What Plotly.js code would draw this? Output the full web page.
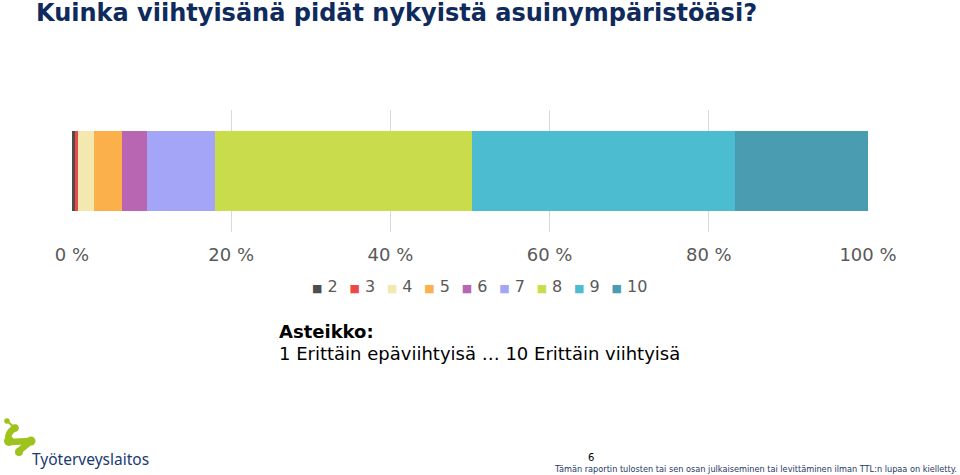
<!DOCTYPE html>
<html>
<head>
<meta charset="utf-8">
<script src="https://cdn.plot.ly/plotly-3.0.1.min.js"></script>
<style>html,body{margin:0;padding:0;background:#fff;}#chart{width:960px;height:475px;}</style>
</head>
<body>
<div id="chart"></div>
<script>
// ---- data ----
const categories = ['2', '3', '4', '5', '6', '7', '8', '9', '10'];
const values = [0.4, 0.4, 2.0, 3.5, 3.1, 8.6, 32.3, 33.0, 16.7];
const colors = ['#4d4d4d', '#ec4848', '#f3e8b0', '#fbb04c', '#b866b2', '#a5a5f8', '#c9dc4c', '#4cbcd0', '#4a9db0'];
const tickVals = [0, 20, 40, 60, 80, 100];
const tickText = ['0 %', '20 %', '40 %', '60 %', '80 %', '100 %'];
const titleText = 'Kuinka viihtyisänä pidät nykyistä asuinympäristöäsi?';
const scaleTitle = 'Asteikko:';
const scaleText = '1 Erittäin epäviihtyisä … 10 Erittäin viihtyisä';
const pageNo = '6';
const footText = 'Tämän raportin tulosten tai sen osan julkaiseminen tai levittäminen ilman TTL:n lupaa on kielletty.';
const logoText = 'Työterveyslaitos';

// ---- layout helpers (pixel -> paper) ----
const L = 72, R = 868, T = 110, B = 232;
const px = x => (x - L) / (R - L);
const py = y => (B - y) / (B - T);

const traces = categories.map((c, i) => ({
  type: 'bar', orientation: 'h', name: c,
  x: [values[i]], y: ['q'], width: 0.656,
  marker: {color: colors[i], line: {width: 0}},
  showlegend: false, hoverinfo: 'name+x'
}));

const legendText = categories.map((c, i) =>
  `<span style="color:${colors[i]};font-size:11px">■</span>\u00A0${c}`).join('\u00A0\u00A0\u200A');

const logoSvg = `<svg xmlns="http://www.w3.org/2000/svg" width="40" height="40" viewBox="0 0 40 40">
<g fill="#9dc31c" stroke="#9dc31c" stroke-linecap="round" stroke-linejoin="round">
<circle cx="7" cy="5" r="2.8" stroke="none"/>
<path d="M7,5 L15,12" stroke-width="2.2" fill="none"/>
<path d="M15,12 Q5,18 10,26 L31,25 L19,35" stroke-width="6.5" fill="none"/>
<circle cx="15" cy="12" r="3.8" stroke="none"/>
<circle cx="9" cy="25" r="5" stroke="none"/>
<circle cx="31" cy="25" r="4.5" stroke="none"/>
<circle cx="19" cy="36" r="4" stroke="none"/>
</g></svg>`;

const layout = {
  width: 960, height: 475,
  paper_bgcolor: '#ffffff', plot_bgcolor: '#ffffff',
  margin: {l: L, r: 960 - R, t: T, b: 475 - B, pad: 0},
  barmode: 'stack',
  bargap: 0,
  title: {
    text: titleText, x: 36 / 960, xanchor: 'left', xref: 'container',
    y: 1 - 13 / 475, yanchor: 'middle', yref: 'container', pad: {t: 0, l: 0},
    font: {family: 'DejaVu Sans', size: 24, color: '#0f2a5c', weight: 'bold'}
  },
  xaxis: {
    range: [0, 100], tickvals: tickVals, ticktext: tickText,
    showgrid: true, gridcolor: '#d9d9d9', gridwidth: 1, zeroline: false,
    showline: false, ticks: '', ticklabelstandoff: 10,
    tickfont: {family: 'DejaVu Sans', size: 18, color: '#595959'},
    fixedrange: true
  },
  yaxis: {range: [-0.5, 0.5], visible: false, fixedrange: true},
  annotations: [
    {text: legendText, xref: 'paper', yref: 'paper', x: px(479), y: py(286),
     xanchor: 'center', yanchor: 'middle', showarrow: false,
     font: {family: 'DejaVu Sans', size: 16, color: '#595959'}},
    {text: '<b>' + scaleTitle + '</b>', xref: 'paper', yref: 'paper', x: px(277), y: py(331),
     xanchor: 'left', yanchor: 'middle', showarrow: false,
     font: {family: 'DejaVu Sans', size: 18, color: '#000000'}},
    {text: scaleText, xref: 'paper', yref: 'paper', x: px(277), y: py(353),
     xanchor: 'left', yanchor: 'middle', showarrow: false,
     font: {family: 'DejaVu Sans', size: 18, color: '#000000'}},
    {text: logoText, xref: 'paper', yref: 'paper', x: px(30), y: py(459),
     xanchor: 'left', yanchor: 'middle', showarrow: false,
     font: {family: 'Noto Sans', size: 15.5, color: '#1b3a72'}},
    {text: pageNo, xref: 'paper', yref: 'paper', x: px(591), y: py(457),
     xanchor: 'center', yanchor: 'middle', showarrow: false,
     font: {family: 'DejaVu Sans', size: 10, color: '#000000'}},
    {text: footText, xref: 'paper', yref: 'paper', x: px(552), y: py(468.5),
     xanchor: 'left', yanchor: 'middle', showarrow: false,
     font: {family: 'DejaVu Sans Condensed', size: 9.1, color: '#1f3864'}}
  ],
  images: [{
    source: 'data:image/svg+xml;charset=utf-8,' + encodeURIComponent(logoSvg),
    xref: 'paper', yref: 'paper', x: px(0), y: py(416),
    sizex: 40 / (R - L), sizey: 40 / (B - T), xanchor: 'left', yanchor: 'top',
    sizing: 'stretch', layer: 'above'
  }]
};

Plotly.newPlot('chart', traces, layout, {displayModeBar: false, staticPlot: true});
</script>
</body>
</html>
